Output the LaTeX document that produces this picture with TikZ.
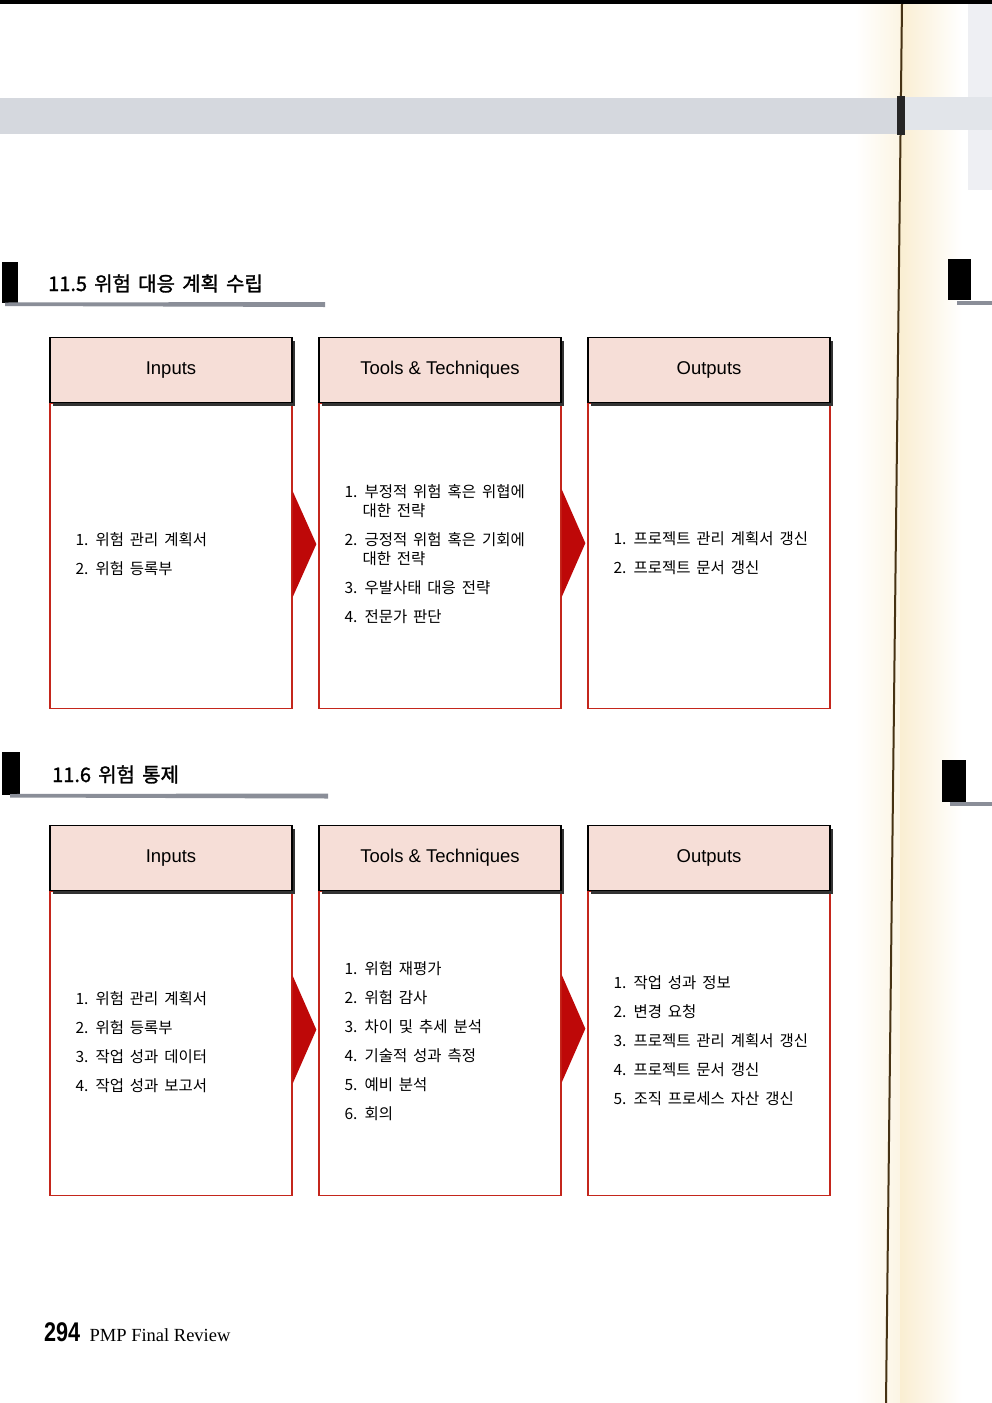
\documentclass[tikz,border=0pt]{standalone}
\usepackage{fontspec}
\setmainfont{Liberation Serif}
\setsansfont{Liberation Sans}
\newfontfamily\krfont[WordSpace=1.7]{Noto Sans CJK KR}
\newfontfamily\krtitle[FakeBold=1.4, WordSpace=1.6]{Noto Sans CJK KR}
\newfontfamily\pagenumfont[FakeStretch=0.8]{Liberation Sans}
\usetikzlibrary{calc, positioning, shadows}

\definecolor{headpink}{RGB}{246,222,215}
\definecolor{boxred}{RGB}{196,38,28}
\definecolor{arrowred}{RGB}{190,8,8}
\definecolor{bandgray}{RGB}{213,216,222}
\definecolor{lightband}{RGB}{226,229,234}
\definecolor{rulegray}{RGB}{138,142,152}
\definecolor{cream}{RGB}{250,238,210}
\definecolor{foldbrown}{RGB}{70,50,20}

\tikzset{
    my-head/.style={
        draw=black, line width=1.3pt, fill=headpink, minimum width=242pt, minimum height=65pt,
        inner sep=0pt, anchor=south, font=\sffamily\fontsize{18.5}{18.5}\selectfont,
        drop shadow={shadow xshift=2.5pt, shadow yshift=-3.5pt, fill=black!80, opacity=1}
    },
    my-body/.style={
        draw=boxred, line width=1.3pt, fill=white, minimum width=242pt, minimum height=305pt,
        inner sep=0pt, anchor=north
    },
    my-list/.style={
        anchor=base west, align=left, inner sep=0pt, font=\krfont\fontsize{15.5}{19}\selectfont
    },
    my-bar/.style={
        fill=black, inner sep=0pt, minimum width=16pt, minimum height=42pt
    },
    my-title/.style={
        anchor=base west, inner sep=0pt, font=\krtitle\fontsize{20}{20}\selectfont
    },
}

\begin{document}
\begin{tikzpicture}[x=1pt, y=-1pt]

        % PAGE ---------------------------------------------------------------------------------------
        \useasboundingbox (0,0) rectangle (992,1403);
        \fill[white] (0,0) rectangle (992,1403);

        % FOLD SHADING
        \shade[left color=white, right color=cream!60] (855,0) rectangle (900,1403);
        \shade[left color=cream, right color=white] (900,0) rectangle (962,1403);
        \fill[lightband!60] (968,0) rectangle (992,190);

        % BANDS AND TOP EDGE
        \fill[black] (0,0) rectangle (992,4);
        \fill[bandgray] (0,98) rectangle (900,134);
        \fill[lightband] (905,97) rectangle (992,130);
        \draw[line width=2pt, foldbrown] (902,4) -- (886,1403);
        \fill[black!85] (897,96) rectangle (905,135);

        % RIGHT PAGE MARKS
        \fill[black] (948,259) rectangle (971,300);
        \fill[rulegray] (957,301) rectangle (992,305);
        \fill[black] (942,760) rectangle (966,802);
        \fill[rulegray] (950,802) rectangle (992,806);

        % 11.5 ---------------------------------------------------------------------------------------

        % TITLE
        \node[my-bar, minimum height=41pt] (BAR1) at (10, 282.5) {};
        \node[my-title] (TITLE1) at (48, 291) {11.5 위험 대응 계획 수립};
        \fill[rulegray] (5,302.5) -- (325,302) -- (325,307) -- (5,306) -- cycle;

        % BODIES
        \node[my-body] (IN1BODY)  at (171, 403) {};
        \node[my-body] (TT1BODY)  at (440, 403) {};
        \node[my-body] (OUT1BODY) at (709, 403) {};

        % HEADERS
        \node[my-head] (IN1)  at (IN1BODY.north)  {Inputs};
        \node[my-head] (TT1)  at (TT1BODY.north)  {Tools \& Techniques};
        \node[my-head] (OUT1) at (OUT1BODY.north) {Outputs};

        % ARROWS
        \coordinate (A1) at ($(IN1BODY.east) + (0, -12)$);
        \fill[arrowred] ($(A1) + (0, -53)$) -- ($(A1 -| TT1BODY.west) + (-2, 0)$) -- ($(A1) + (0, 53)$) -- cycle;
        \coordinate (A2) at ($(TT1BODY.east) + (0, -13)$);
        \fill[arrowred] ($(A2) + (0, -54)$) -- ($(A2 -| OUT1BODY.west) + (-2, 0)$) -- ($(A2) + (0, 54)$) -- cycle;

        % LISTS (ANCHORED AT LAST LINE)
        \node[my-list] (IN1LIST) at ($(IN1BODY.north west) + (26, 171)$)
            {1. 위험 관리 계획서\\[10pt]
             2. 위험 등록부};
        \node[my-list] (TT1LIST) at ($(TT1BODY.north west) + (26, 219)$)
            {1. 부정적 위험 혹은 위협에\\
             \hspace*{18pt}대한 전략\\[10pt]
             2. 긍정적 위험 혹은 기회에\\
             \hspace*{18pt}대한 전략\\[10pt]
             3. 우발사태 대응 전략\\[10pt]
             4. 전문가 판단};
        \node[my-list] (OUT1LIST) at ($(OUT1BODY.north west) + (26, 170)$)
            {1. 프로젝트 관리 계획서 갱신\\[10pt]
             2. 프로젝트 문서 갱신};

        % 11.6 ---------------------------------------------------------------------------------------

        % TITLE
        \node[my-bar, minimum width=18pt, minimum height=43pt] (BAR2) at (11, 773.5) {};
        \node[my-title] (TITLE2) at (52, 782) {11.6 위험 통제};
        \fill[rulegray] (10,794) -- (328,793.5) -- (328,798.5) -- (10,797.5) -- cycle;

        % BODIES
        \node[my-body, minimum height=304pt] (IN2BODY)  at (171, 891) {};
        \node[my-body, minimum height=304pt] (TT2BODY)  at (440, 891) {};
        \node[my-body, minimum height=304pt] (OUT2BODY) at (709, 891) {};

        % HEADERS
        \node[my-head] (IN2)  at (IN2BODY.north)  {Inputs};
        \node[my-head] (TT2)  at (TT2BODY.north)  {Tools \& Techniques};
        \node[my-head] (OUT2) at (OUT2BODY.north) {Outputs};

        % ARROWS
        \coordinate (A3) at ($(IN2BODY.east) + (0, -14)$);
        \fill[arrowred] ($(A3) + (0, -54)$) -- ($(A3 -| TT2BODY.west) + (-2, 0)$) -- ($(A3) + (0, 54)$) -- cycle;
        \coordinate (A4) at ($(TT2BODY.east) + (0, -15)$);
        \fill[arrowred] ($(A4) + (0, -54)$) -- ($(A4 -| OUT2BODY.west) + (-2, 0)$) -- ($(A4) + (0, 54)$) -- cycle;

        % LISTS (ANCHORED AT LAST LINE)
        \node[my-list] (IN2LIST) at ($(IN2BODY.north west) + (26, 200)$)
            {1. 위험 관리 계획서\\[10pt]
             2. 위험 등록부\\[10pt]
             3. 작업 성과 데이터\\[10pt]
             4. 작업 성과 보고서};
        \node[my-list] (TT2LIST) at ($(TT2BODY.north west) + (26, 228)$)
            {1. 위험 재평가\\[10pt]
             2. 위험 감사\\[10pt]
             3. 차이 및 추세 분석\\[10pt]
             4. 기술적 성과 측정\\[10pt]
             5. 예비 분석\\[10pt]
             6. 회의};
        \node[my-list] (OUT2LIST) at ($(OUT2BODY.north west) + (26, 213)$)
            {1. 작업 성과 정보\\[10pt]
             2. 변경 요청\\[10pt]
             3. 프로젝트 관리 계획서 갱신\\[10pt]
             4. 프로젝트 문서 갱신\\[10pt]
             5. 조직 프로세스 자산 갱신};

        % FOOTER -------------------------------------------------------------------------------------
        \node[anchor=base west, inner sep=0pt, font=\pagenumfont\bfseries\fontsize{27}{27}\selectfont] (PAGENUM) at (44, 1341) {294};
        \node[anchor=base west, inner sep=0pt, font=\rmfamily\fontsize{18.5}{18.5}\selectfont] (FOOTTXT) at ($(PAGENUM.base east) + (9, 0)$) {PMP Final Review};

    \end{tikzpicture}
\end{document}
